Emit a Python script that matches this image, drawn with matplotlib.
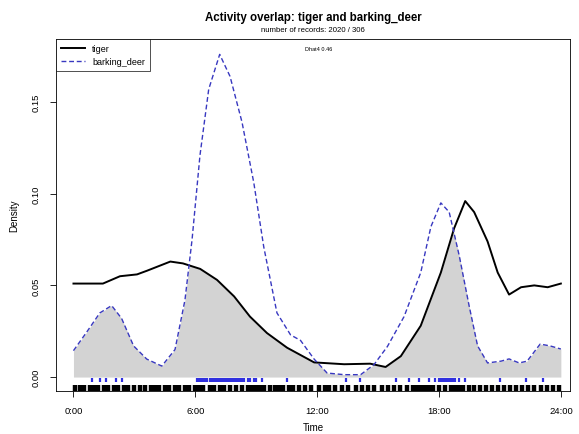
import numpy as np
import matplotlib
matplotlib.use("Agg")
import matplotlib.pyplot as plt

plt.rcParams['font.family'] = ['Liberation Sans', 'DejaVu Sans']

# density curves (hour, density)
tiger_h = [0.0, 1.45, 2.29, 3.13, 3.62, 4.77, 5.39, 6.24, 7.07, 7.91, 8.69, 9.53,
           10.52, 11.85, 13.33, 14.61, 15.37, 16.12, 17.1, 18.09, 18.74, 19.29,
           19.73, 20.39, 20.89, 21.45, 22.04, 22.69, 23.35, 24.0]
tiger_d = [0.051, 0.051, 0.055, 0.056, 0.058, 0.063, 0.062, 0.059, 0.053, 0.044,
           0.033, 0.024, 0.016, 0.008, 0.007, 0.0073, 0.0055, 0.0114, 0.028, 0.057,
           0.081, 0.096, 0.090, 0.074, 0.057, 0.045, 0.049, 0.050, 0.049, 0.051]

deer_h = [0.0, 0.65, 1.3, 1.88, 2.37, 2.96, 3.61, 4.35, 5.0, 5.49, 5.84, 6.23,
          6.66, 7.2, 7.71, 8.3, 8.88, 9.37, 10.02, 10.69, 11.18, 11.85, 12.49,
          13.33, 14.14, 14.8, 15.46, 16.28, 17.1, 17.6, 18.09, 18.5, 19.0, 19.48,
          19.9, 20.39, 21.06, 21.45, 21.95, 22.34, 22.98, 23.47, 24.0]
deer_d = [0.0144, 0.0245, 0.035, 0.039, 0.032, 0.017, 0.0098, 0.006, 0.015, 0.042,
          0.075, 0.121, 0.157, 0.176, 0.164, 0.139, 0.106, 0.071, 0.035, 0.023,
          0.020, 0.0098, 0.0022, 0.0013, 0.0013, 0.0068, 0.0167, 0.033, 0.057,
          0.082, 0.095, 0.090, 0.066, 0.039, 0.017, 0.0077, 0.0087, 0.0099,
          0.0077, 0.0087, 0.018, 0.017, 0.0153]

# rug records (approximate times, hours)
tiger_times = [0.1, 0.3, 0.5, 0.8, 1.0, 1.2, 1.5, 1.7, 2.0, 2.2, 2.5, 2.7, 3.0, 3.3,
               3.5, 3.8, 4.0, 4.2, 4.5, 4.7, 5.0, 5.2, 5.5, 5.7, 6.0, 6.2, 6.4, 6.7,
               6.9, 7.2, 7.4, 7.7, 8.0, 8.3, 8.6, 8.8, 9.0, 9.2, 9.4, 9.7, 9.9,
               10.1, 10.3, 10.6, 10.8, 11.1, 11.4, 11.7, 12.1, 12.4, 12.6, 12.9,
               13.2, 13.5, 13.9, 14.2, 14.5, 14.8, 15.2, 15.5, 15.8, 16.1, 16.4,
               16.7, 16.9, 17.1, 17.3, 17.5, 17.7, 18.0, 18.3, 18.6, 18.8, 19.0,
               19.2, 19.5, 19.7, 20.0, 20.3, 20.6, 20.9, 21.2, 21.5, 21.8, 22.1,
               22.4, 22.7, 23.0, 23.3, 23.6, 23.9]
deer_times = [0.9, 1.3, 1.6, 2.1, 2.4, 6.1, 6.2, 6.3, 6.4, 6.5, 6.6, 6.7, 6.8, 6.9,
              7.0, 7.1, 7.2, 7.3, 7.4, 7.5, 7.6, 7.7, 7.8, 7.9, 8.0, 8.1, 8.2, 8.3,
              8.4, 8.6, 8.7, 8.9, 9.0, 9.3, 10.5, 13.4, 14.1, 15.9, 16.5, 17.0,
              17.5, 17.8, 18.0, 18.1, 18.2, 18.3, 18.4, 18.5, 18.6, 18.7, 18.8,
              19.0, 19.3, 21.0, 22.3, 23.1]

xticks = [0, 6, 12, 18, 24]
xticklabels = ["0:00", "6:00", "12:00", "18:00", "24:00"]
yticks = [0.00, 0.05, 0.10, 0.15]
yticklabels = ["0.00", "0.05", "0.10", "0.15"]

fig = plt.figure(figsize=(5.79, 4.35), dpi=100)
ax = fig.add_axes([56/579, 1-392/435, (570-56)/579, (392-40)/435])

# overlap area
grid = np.linspace(0, 24, 500)
low = np.minimum(np.interp(grid, tiger_h, tiger_d), np.interp(grid, deer_h, deer_d))
ax.fill_between(grid, 0, low, color='#d3d3d3', lw=0)

ax.plot(tiger_h, tiger_d, color='black', lw=1.4, label='tiger')
ax.plot(deer_h, deer_d, color='#3838c0', lw=1.0, ls=(0, (3.5, 2)), label='barking_deer')

# rugs
ax.vlines(tiger_times, -0.0076, -0.0042, color='black', lw=3.2)
ax.vlines(deer_times, -0.0027, -0.0006, color='#3030e0', lw=1.6)

ax.set_xlim(-0.86, 24.45)
ax.set_ylim(-0.0076, 0.1844)
ax.set_xticks(xticks)
ax.set_xticklabels(xticklabels, fontsize=6.8)
ax.set_yticks(yticks)
ax.set_yticklabels(yticklabels, fontsize=6.8, rotation=90, va='center')
ax.tick_params(length=4, width=0.6, pad=7)
for s in ax.spines.values():
    s.set_linewidth(0.6)

ax.set_xlabel("Time", fontsize=7, labelpad=5)
ax.set_ylabel("Density", fontsize=7, labelpad=9)

leg = ax.legend(loc='upper left', fontsize=6.5, frameon=True, fancybox=False,
                edgecolor='black', borderaxespad=0, handlelength=2.6,
                borderpad=0.6, labelspacing=0.4)
leg.get_frame().set_linewidth(0.6)

fig.text(313/579, 1-18/435, "Activity overlap: tiger and barking_deer",
         ha='center', va='center', fontsize=8.3, fontweight='bold')
fig.text(313/579, 1-30/435, "number of records: 2020 / 306",
         ha='center', va='center', fontsize=5.6)
ax.text(0.51, 0.972, "Dhat4 0.46", transform=ax.transAxes,
        ha='center', va='center', fontsize=4)

fig.savefig("out.png", dpi=100)
